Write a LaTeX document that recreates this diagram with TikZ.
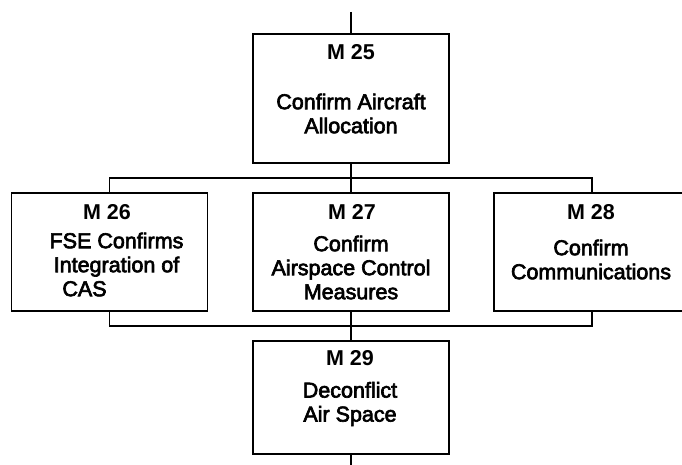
\documentclass[tikz,border=0pt]{standalone}
\usepackage{fontspec}
\setmainfont{Liberation Sans}
\newfontfamily\heavyfont{Liberation Sans}[FakeBold=3]
\begin{document}
\begin{tikzpicture}[x=1pt,y=1pt,
  box/.style={draw, line width=1.6pt, minimum width=196pt, inner sep=0pt},
  lbl/.style={font=\fontsize{21.5}{24}\selectfont\bfseries, inner sep=0pt},
  body/.style={font=\heavyfont\fontsize{21.5}{24}\selectfont, align=center, inner sep=0pt},
  conn/.style={line width=1.5pt}]
\clip (0,0) rectangle (682,464);
\fill[white] (0,0) rectangle (682,464);
% boxes
\node[box, minimum height=129pt] (m25) at (351,365.5) {};
\node[box, minimum height=118pt] (m26) at (109.5,212) {};
\node[box, minimum height=118pt] (m27) at (351,212) {};
\node[box, minimum height=118pt] (m28) at (592,212) {};
\node[box, minimum height=113pt] (m29) at (351,66.5) {};
% labels
\node[lbl] (l25) at (351,412) {M 25};
\node[lbl] (l26) at (107,252) {M 26};
\node[lbl] (l27) at (352,252) {M 27};
\node[lbl] (l28) at (591,252) {M 28};
\node[lbl] (l29) at (350,106) {M 29};
% bodies
\node[body] (b25) at (351,350.5) {Confirm Aircraft\\Allocation};
\node[body] (b26) at (116.5,199.5) {FSE Confirms\\Integration of\\CAS\hspace*{64pt}};
\node[body] (b27) at (351,196.5) {Confirm\\Airspace Control\\Measures};
\node[body] (b28) at (591,204.5) {Confirm\\Communications};
\node[body] (b29) at (350,60) {Deconflict\\Air Space};
% connectors
\coordinate (topend) at (351,452);
\coordinate (botend) at (351,-2);
\draw[conn] (topend) -- (m25.north);
\draw[conn] (m25.south) -- (m27.north);
\draw[conn] (m26.north) -- ++(0,14) -| (m28.north);
\draw[conn] (m26.south) -- ++(0,-14) -| (m28.south);
\draw[conn] (m27.south) -- (m29.north);
\draw[conn] (m29.south) -- (botend);
\end{tikzpicture}
\end{document}
